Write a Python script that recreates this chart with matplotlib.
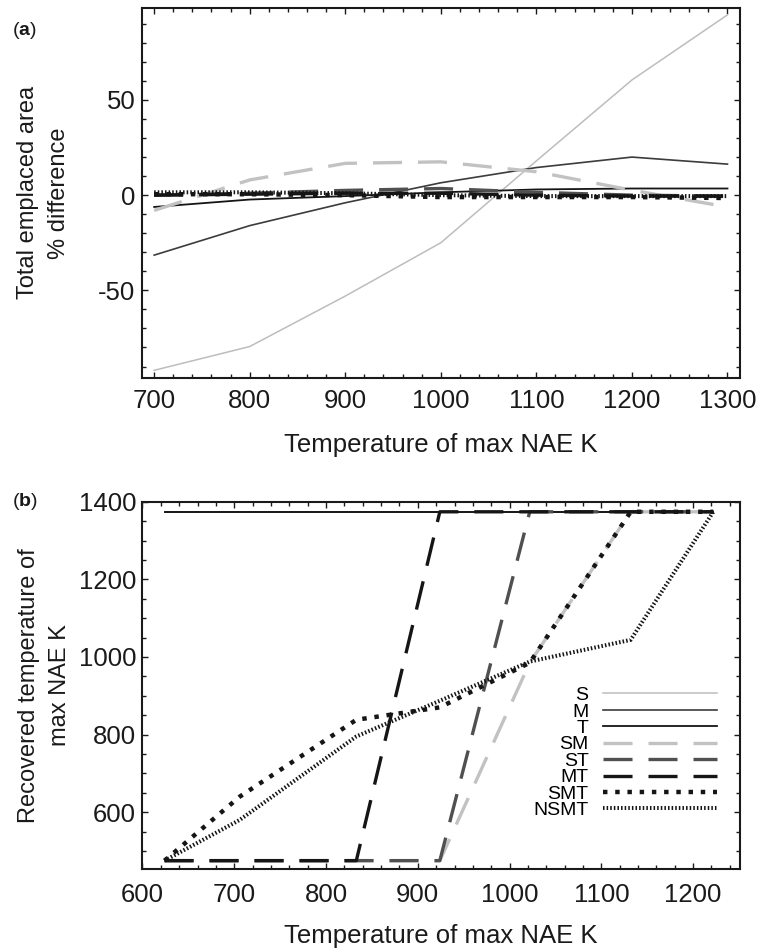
import matplotlib
matplotlib.use("Agg")
import matplotlib.pyplot as plt
from matplotlib.ticker import MultipleLocator

plt.rcParams['font.family'] = ['Liberation Sans', 'DejaVu Sans']
plt.rcParams['mathtext.fontset'] = 'custom'
plt.rcParams['mathtext.rm'] = 'Liberation Sans'
plt.rcParams['mathtext.bf'] = 'Liberation Sans:bold'
plt.rcParams['axes.unicode_minus'] = False
plt.rcParams['lines.scale_dashes'] = False

# panel (a): % difference in total emplaced area
temp_a = [700, 800, 900, 1000, 1100, 1200, 1300]
area_S = [-92, -79.5, -53, -25, 18, 60.5, 94.7]
area_M = [-31.5, -16, -4, 6.5, 14.5, 20, 16.3]
area_T = [-6.2, -2.3, -0.5, 1.5, 3, 3.5, 3.5]
area_SM = [-8, 8, 16.7, 17.5, 12.3, 2.6, -6.2]
area_ST = [0, 1, 2.5, 3.5, 1.5, 0, -0.5]
area_MT = [0, 0.5, 1, 1, 0, -0.5, -0.5]
area_SMT = [0.5, 0.5, 0, -1, -1, -1, -1.5]
area_NSMT = [1.5, 1.5, 1, 0, -0.5, -0.5, -0.5]

# panel (b): recovered temperature of max NAE
temp_b = [624, 706, 833, 924, 1022, 1132, 1222]
rec_S = [1374, 1374, 1374, 1374, 1374, 1374, 1374]
rec_M = [1374, 1374, 1374, 1374, 1374, 1374, 1374]
rec_T = [1374, 1374, 1374, 1374, 1374, 1374, 1374]
rec_SM = [475, 475, 475, 475, 985, 1374, 1374]
rec_ST = [475, 475, 475, 475, 1374, 1374, 1374]
rec_MT = [475, 475, 475, 1374, 1374, 1374, 1374]
rec_SMT = [475, 640, 838, 870, 985, 1374, 1374]
rec_NSMT = [475, 580, 795, 887, 988, 1044, 1374]

labels = ['S', 'M', 'T', 'SM', 'ST', 'MT', 'SMT', 'NSMT']

# line styles (dashes in points, not scaled by width)
DASH = (0, (20.9, 11.5))
STYLES = {
    'S':    dict(color='#bdbdbd', lw=1.1, ls='-'),
    'M':    dict(color='#3c3c3c', lw=1.2, ls='-'),
    'T':    dict(color='#151515', lw=1.3, ls='-'),
    'SM':   dict(color='#c2c2c2', lw=2.4, ls=DASH),
    'ST':   dict(color='#505050', lw=2.4, ls=DASH),
    'MT':   dict(color='#151515', lw=2.4, ls=DASH),
    'SMT':  dict(color='#151515', lw=3.2, ls=(0, (3.2, 5.6))),
    'NSMT': dict(color='#151515', lw=2.9, ls=(0, (1.1, 1.5))),
}

TICK_FS = 18.5
LABEL_FS = 17


def style_axes(ax, xmajor, xminor, ymajor, yminor, xpad):
    ax.xaxis.set_major_locator(MultipleLocator(xmajor))
    ax.xaxis.set_minor_locator(MultipleLocator(xminor))
    ax.yaxis.set_major_locator(MultipleLocator(ymajor))
    ax.yaxis.set_minor_locator(MultipleLocator(yminor))
    ax.tick_params(which='both', direction='in', top=True, right=True,
                   width=1.0, labelsize=TICK_FS, colors='#1a1a1a')
    ax.tick_params(axis='y', pad=4.5)
    ax.tick_params(axis='x', pad=xpad)
    ax.tick_params(which='major', length=4.5)
    ax.tick_params(which='minor', length=3)
    for s in ax.spines.values():
        s.set_linewidth(1.5)
        s.set_color('#1a1a1a')


fig = plt.figure(figsize=(7.62, 9.52), dpi=100)
ax1 = fig.add_axes([0.186, 0.603, 0.785, 0.389])
ax2 = fig.add_axes([0.187, 0.087, 0.784, 0.386])

series_a = [area_S, area_M, area_T, area_SM, area_ST, area_MT, area_SMT, area_NSMT]
for lab, ys in zip(labels, series_a):
    st = STYLES[lab]
    ax1.plot(temp_a, ys, color=st['color'], lw=st['lw'], linestyle=st['ls'], label=lab)

series_b = [rec_S, rec_M, rec_T, rec_SM, rec_ST, rec_MT, rec_SMT, rec_NSMT]
for lab, ys in zip(labels, series_b):
    st = STYLES[lab]
    ax2.plot(temp_b, ys, color=st['color'], lw=st['lw'], linestyle=st['ls'], label=lab)

ax1.set_xlim(687, 1313)
ax1.set_ylim(-96, 98.5)
style_axes(ax1, 100, 20, 50, 10, xpad=8)

ax2.set_xlim(600, 1251)
ax2.set_ylim(453, 1400)
style_axes(ax2, 100, 20, 200, 50, xpad=10)

ax1.set_xlabel('Temperature of max NAE K', fontsize=TICK_FS, color='#1a1a1a', va='top')
ax1.xaxis.set_label_coords(0.5, -0.148)
ax1.set_ylabel('Total emplaced area\n% difference', fontsize=LABEL_FS, color='#1a1a1a',
               linespacing=1.5)
ax1.yaxis.set_label_coords(-0.12, 0.5)

ax2.set_xlabel('Temperature of max NAE K', fontsize=TICK_FS, color='#1a1a1a', va='top')
ax2.xaxis.set_label_coords(0.5, -0.15)
ax2.set_ylabel('Recovered temperature of\nmax NAE K', fontsize=LABEL_FS, color='#1a1a1a',
               linespacing=1.5)
ax2.yaxis.set_label_coords(-0.12, 0.5)

fig.text(0.016, 0.968, r'($\mathbf{a}$)', fontsize=14, color='#1a1a1a', va='center')
fig.text(0.016, 0.4735, r'($\mathbf{b}$)', fontsize=14, color='#1a1a1a', va='center')

ax2.legend(loc='upper right', bbox_to_anchor=(0.9615, 0.497), frameon=False,
           markerfirst=False, fontsize=14, handlelength=5.85, handletextpad=0.75,
           labelspacing=-0.06, borderpad=0, borderaxespad=0)

fig.savefig('out.png', dpi=100)
